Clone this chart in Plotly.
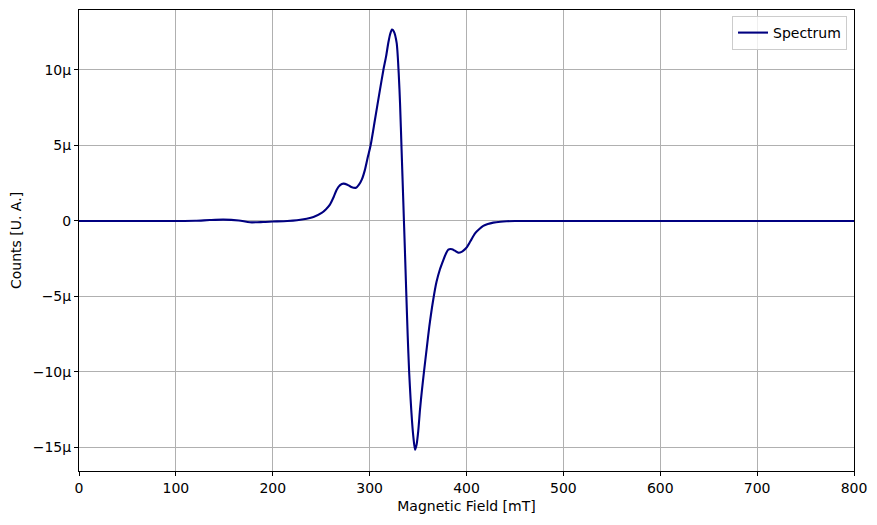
import plotly.graph_objects as go

# Magnetic field [mT]
field_mT = [0, 50, 100, 120, 135, 149, 165, 176.5, 190, 200, 215, 225, 235, 242,
            250.5, 255, 259, 263, 266, 269.5, 273, 277, 281, 286, 289, 292, 295,
            298, 301, 305.5, 310.7, 314.2, 317, 319.3, 321.3, 323.1, 325, 327.9,
            330, 331.4, 333, 334.8, 336.3, 337.8, 339.3, 340.8, 342.3, 343.8,
            345.3, 346.9, 348.5, 350.2, 352, 354, 356.1, 359, 361.6, 365.7,
            369, 372.6, 376, 378.5, 381.2, 385, 388, 391.5, 395, 398, 400, 404,
            408.8, 413, 417.3, 422, 427.6, 435, 441.5, 450, 460, 500, 600, 700, 800]

# Counts in micro-units
counts_u = [0, 0, 0, 0.01, 0.06, 0.09, 0.03, -0.09, -0.07, -0.04, 0.0, 0.05, 0.15, 0.26,
            0.53, 0.78, 1.08, 1.6, 2.07, 2.37, 2.47, 2.4, 2.25, 2.2, 2.4, 2.75, 3.35,
            4.2, 5.0, 6.7, 8.7, 10.0, 10.9, 11.8, 12.4, 12.67, 12.55, 11.79,
            9.8, 7.8, 4.7, 1.2, -1.7, -4.7, -7.6, -10.0, -11.8, -13.3,
            -14.4, -15.15, -14.8, -13.9, -12.5, -11.2, -10.0, -8.4, -7.0, -5.2,
            -4.05, -3.2, -2.6, -2.2, -1.9, -1.87, -1.97, -2.1, -2.05, -1.9, -1.77, -1.35,
            -0.82, -0.55, -0.33, -0.2, -0.11, -0.05, -0.02, -0.005, 0, 0, 0, 0, 0]

counts = [v * 1e-6 for v in counts_u]

x_ticks = [0, 100, 200, 300, 400, 500, 600, 700, 800]
y_tick_vals = [-15e-6, -10e-6, -5e-6, 0, 5e-6, 10e-6]
y_tick_text = ["\u221215\u00b5", "\u221210\u00b5", "\u22125\u00b5", "0", "5\u00b5", "10\u00b5"]

fig = go.Figure()
fig.add_trace(go.Scatter(
    x=field_mT, y=counts, mode="lines", name="Spectrum",
    line=dict(color="#000080", width=2.1, shape="spline", smoothing=0.7),
))

FS = 14
axis_common = dict(
    showgrid=True, gridcolor="#b0b0b0", gridwidth=0.8,
    showline=True, linecolor="black", linewidth=1, mirror=True,
    ticks="outside", ticklen=4, tickcolor="black", tickwidth=1,
    zeroline=False,
    tickfont=dict(family="DejaVu Sans", size=FS, color="black"),
)

# page body has an 8px margin; offset the figure so the plot area lands in place
fig.update_layout(
    width=869, height=517,
    margin=dict(l=71, r=23, t=2, b=54),
    paper_bgcolor="white", plot_bgcolor="white",
    font=dict(family="DejaVu Sans", size=FS, color="black"),
    xaxis=dict(range=[0, 800], tickvals=x_ticks,
               title=dict(text="Magnetic Field [mT]", standoff=6,
                          font=dict(family="DejaVu Sans", size=FS)),
               **axis_common),
    yaxis=dict(range=[-16.56e-6, 13.97e-6], tickvals=y_tick_vals, ticktext=y_tick_text,
               title=dict(text="Counts [U. A.]", standoff=10,
                          font=dict(family="DejaVu Sans", size=FS)),
               **axis_common),
    showlegend=True,
    legend=dict(x=0.991, y=0.987, xanchor="right", yanchor="top",
                bgcolor="rgba(255,255,255,0.8)", bordercolor="#cccccc", borderwidth=1,
                font=dict(family="DejaVu Sans", size=FS)),
)

fig.write_html("out.html")
